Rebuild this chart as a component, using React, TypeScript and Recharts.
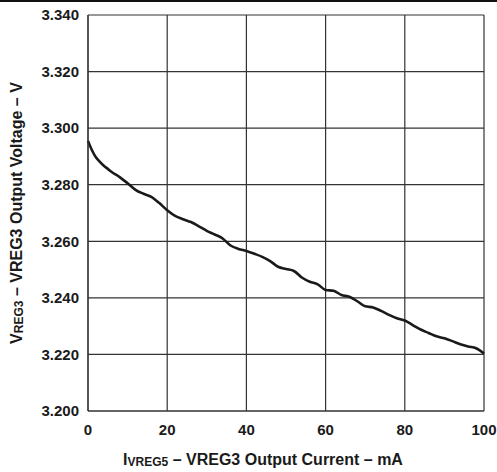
import React from "react";
import { LineChart, Line, XAxis, YAxis, CartesianGrid } from "recharts";

const currentMa = [0, 1, 2, 3, 4, 5, 6, 8, 10, 12, 14, 16, 18, 20, 22, 24, 26, 28, 30, 32, 34, 36, 38, 40, 42, 44, 46, 48, 50, 52, 54, 56, 58, 60, 62, 64, 66, 68, 70, 72, 74, 76, 78, 80, 82, 84, 86, 88, 90, 92, 94, 96, 98, 100];
const outputV = [3.2955, 3.2922, 3.2897, 3.2881, 3.2867, 3.2856, 3.2845, 3.2827, 3.2805, 3.2782, 3.2768, 3.2757, 3.2735, 3.271, 3.269, 3.2678, 3.2668, 3.2653, 3.2637, 3.2624, 3.261, 3.2585, 3.2573, 3.2566, 3.2556, 3.2545, 3.253, 3.251, 3.2502, 3.2495, 3.2472, 3.2457, 3.2448, 3.2428, 3.2425, 3.241, 3.2404, 3.2388, 3.237, 3.2366, 3.2354, 3.234, 3.2328, 3.232, 3.2304, 3.2288, 3.2276, 3.2264, 3.2257, 3.2247, 3.2236, 3.2228, 3.2222, 3.2203];
const xTicks = [0, 20, 40, 60, 80, 100];
const yTicks = [3.2, 3.22, 3.24, 3.26, 3.28, 3.3, 3.32, 3.34];

const data = currentMa.map((x, i) => ({ x, v: outputV[i] }));

const font = "'Liberation Sans', Arial, sans-serif";
const tickStyle = { fontSize: 15, fontWeight: 700, fill: "#1a1a1a", fontFamily: font };
const labelStyle = { fontSize: 16, fontWeight: 700, fontFamily: font, fill: "#1a1a1a" };

const YLabel = (props: any) => {
  const vb = props.viewBox || { x: 0, y: 15, width: 88, height: 396 };
  const cx = vb.x + 16;
  const cy = vb.y + vb.height / 2;
  return (
    <text
      x={cx}
      y={cy}
      transform={`rotate(-90 ${cx} ${cy})`}
      textAnchor="middle"
      dominantBaseline="central"
      style={labelStyle}
    >
      <tspan>V</tspan>
      <tspan fontSize={12} dy={3}>REG3</tspan>
      <tspan dy={-3}>{"   \u2013 VREG3 Output Voltage \u2013 V"}</tspan>
    </text>
  );
};

const XLabel = (props: any) => {
  const vb = props.viewBox || { x: 88, y: 411, width: 396, height: 61 };
  const cx = vb.x + 175;
  const cy = vb.y + 48;
  return (
    <text x={cx} y={cy} textAnchor="middle" dominantBaseline="central" style={labelStyle}>
      <tspan>I</tspan>
      <tspan fontSize={12} dy={3}>VREG5</tspan>
      <tspan dy={-3}>{" \u2013 VREG3 Output Current \u2013 mA"}</tspan>
    </text>
  );
};

export default function App() {
  return (
    <div style={{ position: "absolute", left: 0, top: 0, width: 497, height: 472, background: "#fff" }}>
      <div style={{ position: "absolute", left: 0, top: 0, width: 497, height: 2, background: "#111" }} />
      <LineChart width={497} height={472} data={data} margin={{ top: 15, right: 13, bottom: 0, left: 0 }}>
        <CartesianGrid stroke="#333" strokeWidth={1.2} />
        <XAxis
          dataKey="x"
          type="number"
          domain={[0, 100]}
          ticks={xTicks}
          height={61}
          tick={tickStyle}
          tickLine={false}
          tickSize={0}
          tickMargin={13}
          axisLine={{ stroke: "#333", strokeWidth: 1.2 }}
          label={<XLabel />}
        />
        <YAxis
          type="number"
          domain={[3.2, 3.34]}
          ticks={yTicks}
          width={88}
          tick={tickStyle}
          tickFormatter={(v: number) => v.toFixed(3)}
          tickLine={false}
          tickSize={0}
          tickMargin={9}
          axisLine={{ stroke: "#333", strokeWidth: 1.2 }}
          allowDataOverflow
          label={<YLabel />}
        />
        <Line
          type="monotone"
          dataKey="v"
          stroke="#1a1a1a"
          strokeWidth={2.6}
          dot={false}
          isAnimationActive={false}
        />
      </LineChart>
    </div>
  );
}
